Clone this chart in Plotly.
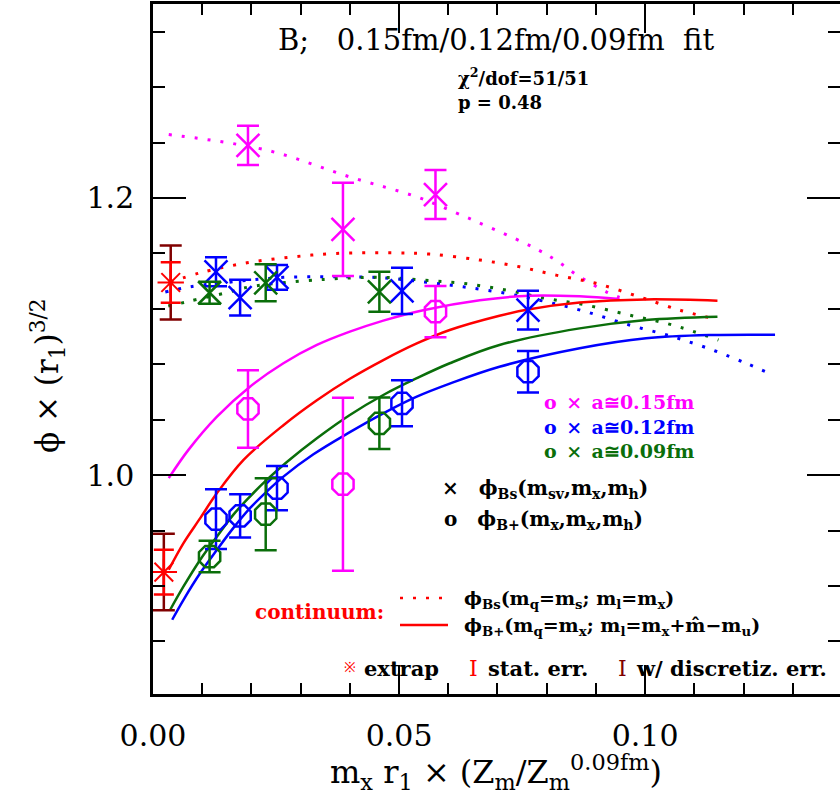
import plotly.graph_objects as go

# ---- data ------------------------------------------------------------------
# a ~ 0.15 fm (magenta)
mag_x = [0.0193, 0.0386, 0.0574]
mag_bs_y = [1.238, 1.1773, 1.2025]
mag_bs_err = [0.0142, 0.0337, 0.0177]
mag_bp_y = [1.0477, 0.9934, 1.1179]
mag_bp_err = [0.028, 0.0625, 0.0185]

# a ~ 0.12 fm (blue)
blue_x = [0.0128, 0.0177, 0.0252, 0.0506, 0.0762]
blue_bs_y = [1.1467, 1.128, 1.1427, 1.133, 1.1191]
blue_bs_err = [0.0105, 0.0129, 0.009, 0.0167, 0.014]
blue_bp_y = [0.9682, 0.9706, 0.9906, 1.0518, 1.0746]
blue_bp_err = [0.0216, 0.0156, 0.0159, 0.0166, 0.015]

# a ~ 0.09 fm (green)
green_x = [0.0115, 0.0229, 0.046]
green_bs_y = [1.1316, 1.1388, 1.1323]
green_bs_err = [0.008, 0.0133, 0.0144]
green_bp_y = [0.9412, 0.9718, 1.0374]
green_bp_err = [0.0114, 0.026, 0.0186]

# continuum extrapolations
extrap_x = [0.0036, 0.0022]
extrap_y = [1.139, 0.930]
extrap_stat = [0.0147, 0.0162]
extrap_tot = [0.0267, 0.0276]

# fit curves, phi_Bs (dotted)
mag_dot_x = [0.0032, 0.0231, 0.0400, 0.0536, 0.0603, 0.0771, 0.0819, 0.0867, 0.0921, 0.0948]
mag_dot_y = [1.2458, 1.2345, 1.2152, 1.2008, 1.1912, 1.1647, 1.1550, 1.1431, 1.1323, 1.1283]
red_dot_x = [0.0035, 0.0096, 0.0191, 0.0285, 0.0373, 0.0481, 0.0562, 0.0664, 0.0745,
             0.0819, 0.0900, 0.0988, 0.1070, 0.1137]
red_dot_y = [1.1393, 1.1460, 1.1532, 1.1575, 1.1600, 1.1604, 1.1595, 1.1552, 1.1503,
             1.1443, 1.1384, 1.1287, 1.1191, 1.1131]
blue_dot_x = [0.0025, 0.0076, 0.0177, 0.0265, 0.0361, 0.0461, 0.0549, 0.0630, 0.0718,
              0.0799, 0.0880, 0.0968, 0.1056, 0.1137, 0.1205, 0.1252]
blue_dot_y = [1.1321, 1.1359, 1.1400, 1.1427, 1.1431, 1.1425, 1.1395, 1.1359, 1.1311,
              1.1251, 1.1179, 1.1083, 1.0999, 1.0903, 1.0807, 1.0735]
green_dot_x = [0.0031, 0.0069, 0.0157, 0.0197, 0.0346, 0.0468, 0.0549, 0.0630, 0.0718,
               0.0799, 0.0880, 0.0968, 0.1056, 0.1149]
green_dot_y = [1.1220, 1.1251, 1.1323, 1.1359, 1.1412, 1.1427, 1.1407, 1.1384, 1.1335,
               1.1275, 1.1227, 1.1155, 1.1083, 1.0975]

# fit curves, phi_B+ (solid)
mag_sol_x = [0.0032, 0.0072, 0.0130, 0.0197, 0.0265, 0.0333, 0.0400, 0.0468, 0.0549,
             0.0664, 0.0765, 0.0867, 0.0948]
mag_sol_y = [0.9978, 1.0182, 1.0422, 1.0638, 1.0807, 1.0939, 1.1035, 1.1115, 1.1190,
             1.1262, 1.1295, 1.1290, 1.1270]
red_sol_x = [0.0032, 0.0062, 0.0096, 0.0130, 0.0184, 0.0265, 0.0333, 0.0400, 0.0468,
             0.0536, 0.0603, 0.0704, 0.0762, 0.0867, 0.1002, 0.1147]
red_sol_y = [0.9317, 0.9509, 0.9689, 0.9870, 1.0110, 1.0360, 1.0540, 1.0695, 1.0830,
             1.0950, 1.1047, 1.1150, 1.1195, 1.1245, 1.1268, 1.1258]
green_sol_x = [0.0035, 0.0062, 0.0096, 0.0130, 0.0163, 0.0197, 0.0231, 0.0272, 0.0333,
               0.0400, 0.0468, 0.0536, 0.0603, 0.0704, 0.0867, 0.1002, 0.1147]
green_sol_y = [0.9028, 0.9196, 0.9389, 0.9557, 0.9713, 0.9845, 0.9965, 1.0095, 1.0266,
               1.0434, 1.0578, 1.0699, 1.0807, 1.0939, 1.1059, 1.1119, 1.1143]
blue_sol_x = [0.0039, 0.0062, 0.0096, 0.0130, 0.0163, 0.0197, 0.0231, 0.0265, 0.0326,
              0.0400, 0.0468, 0.0536, 0.0603, 0.0704, 0.0867, 0.1002, 0.1137, 0.1264]
blue_sol_y = [0.8956, 0.9100, 0.9293, 0.9461, 0.9617, 0.9761, 0.9881, 0.9989, 1.0150,
              1.0310, 1.0446, 1.0566, 1.0660, 1.0782, 1.0915, 1.0987, 1.1011, 1.1013]

# ---- styling ----------------------------------------------------------------
MAGENTA = '#FF00FF'
BLUE = '#0000FF'
GREEN = '#0A6E0A'
RED = '#FF0000'
DARKRED = '#800000'
FONT = 'DejaVu Serif'
PHI = '\u03d5'
NB = '\u00a0'
EN = '\u2002'
EM = '\u2003'

# plot area in pixels (for text placement)
L, T, W, H = 153, 4, 687, 690


def px(x, y):
    return (x - L) / W, (T + H - y) / H


fig = go.Figure()


def curve(xs, ys, color, dotted):
    fig.add_trace(go.Scatter(
        x=xs, y=ys, mode='lines', line_shape='spline', hoverinfo='skip',
        line={'color': color, 'width': 3 if dotted else 2.5,
              'dash': '3px,10px' if dotted else 'solid'}
    ))


for xs, ys, c in [(mag_dot_x, mag_dot_y, MAGENTA), (red_dot_x, red_dot_y, RED),
                  (blue_dot_x, blue_dot_y, BLUE), (green_dot_x, green_dot_y, GREEN)]:
    curve(xs, ys, c, True)
for xs, ys, c in [(mag_sol_x, mag_sol_y, MAGENTA), (red_sol_x, red_sol_y, RED),
                  (green_sol_x, green_sol_y, GREEN), (blue_sol_x, blue_sol_y, BLUE)]:
    curve(xs, ys, c, False)


def points(xs, ys, errs, color, symbol):
    fig.add_trace(go.Scatter(
        x=xs, y=ys, mode='markers',
        marker={'symbol': symbol, 'size': 23, 'color': color,
                'line': {'color': color, 'width': 2.5}},
        error_y={'type': 'data', 'array': errs, 'color': color,
                 'thickness': 2.5, 'width': 11}
    ))


for xs, bs, bse, bp, bpe, c in [
        (mag_x, mag_bs_y, mag_bs_err, mag_bp_y, mag_bp_err, MAGENTA),
        (blue_x, blue_bs_y, blue_bs_err, blue_bp_y, blue_bp_err, BLUE),
        (green_x, green_bs_y, green_bs_err, green_bp_y, green_bp_err, GREEN)]:
    points(xs, bs, bse, c, 'x-thin-open')
    points(xs, bp, bpe, c, 'octagon-open')

# extrapolated points: total error (dark red) and stat error (red)
fig.add_trace(go.Scatter(
    x=extrap_x, y=extrap_y, mode='markers', marker={'size': 1, 'color': DARKRED},
    error_y={'type': 'data', 'array': extrap_tot, 'color': DARKRED,
             'thickness': 2.5, 'width': 11}
))
fig.add_trace(go.Scatter(
    x=extrap_x, y=extrap_y, mode='markers',
    marker={'symbol': 'asterisk-open', 'size': 22, 'color': RED,
            'line': {'color': RED, 'width': 2}},
    error_y={'type': 'data', 'array': extrap_stat, 'color': RED,
             'thickness': 2.5, 'width': 10}
))

# dummy trace so the right-hand tick axis is drawn
fig.add_trace(go.Scatter(x=[0.05], y=[1.0], yaxis='y2', mode='markers',
                         marker={'opacity': 0}, hoverinfo='skip'))

# ---- annotations --------------------------------------------------------------
annotations = []


def ann(text, x, y, size, color='black', bold=False, xanchor='left'):
    ax, ay = px(x, y)
    if bold:
        text = '<b>' + text + '</b>'
    annotations.append(dict(
        text=text, x=ax, y=ay, xref='paper', yref='paper', showarrow=False,
        xanchor=xanchor, yanchor='middle', align='left',
        font={'family': FONT, 'size': size, 'color': color}
    ))


ann('B;' + NB * 3 + '0.15fm/0.12fm/0.09fm' + NB * 2 + 'fit', 276, 40, 29)
ann('χ<sup>2</sup>/dof=51/51', 456, 77, 18, bold=True)
ann('p' + NB + '=' + NB + '0.48', 456, 102, 18, bold=True)

# lattice-spacing key, one text block with coloured lines
key_lines = []
for c, lab in [(MAGENTA, '0.15fm'), (BLUE, '0.12fm'), (GREEN, '0.09fm')]:
    key_lines.append('<span style="color:%s">o%s×%sa≅%s</span>' % (c, EN, EN, lab))
ann('<br>'.join(key_lines), 542, 426, 19, bold=True)

ann('×' + EM + PHI + '<sub>Bs</sub>(m<sub>sv</sub>,m<sub>x</sub>,m<sub>h</sub>)',
    440, 489, 20, bold=True)
ann('o' + EM + PHI + '<sub>B+</sub>(m<sub>x</sub>,m<sub>x</sub>,m<sub>h</sub>)',
    442, 520, 20, bold=True)

ann('continuum:', 253, 612, 20, RED, True)
ann(PHI + '<sub>Bs</sub>(m<sub>q</sub>=m<sub>s</sub>;' + NB + 'm<sub>l</sub>=m<sub>x</sub>)',
    462, 599, 19, bold=True)
ann(PHI + '<sub>B+</sub>(m<sub>q</sub>=m<sub>x</sub>;' + NB
    + 'm<sub>l</sub>=m<sub>x</sub>+m\u0302−m<sub>u</sub>)',
    462, 626, 19, bold=True)

ann('※', 350, 667, 14, RED, xanchor='center')
ann('extrap', 362, 668, 21, bold=True)
ann('I', 473, 668, 22, RED, xanchor='center')
ann('stat.' + NB + 'err.', 486, 668, 21, bold=True)
ann('I', 622, 668, 22, DARKRED, xanchor='center')
ann('w/' + NB + 'discretiz.' + NB + 'err.', 634, 668, 21, bold=True)

# axis titles
ann(PHI + ' × (r<sub>1</sub>)<sup>3/2</sup>', 47, 376, 31, xanchor='center')
annotations[-1]['textangle'] = -90
ann('m<sub>x</sub> r<sub>1</sub> × (Z<sub>m</sub>/Z<sub>m</sub><sup>0.09fm</sup>)',
    496, 772, 32, xanchor='center')

# legend line samples for the continuum curves
x0, _ = px(400, 0)
x1, _ = px(448, 0)
_, yd = px(0, 598)
_, ys = px(0, 625)
shapes = [
    dict(type='line', xref='paper', yref='paper', x0=x0, x1=x1, y0=yd, y1=yd,
         line={'color': RED, 'width': 2.5, 'dash': '3px,10px'}),
    dict(type='line', xref='paper', yref='paper', x0=x0, x1=x1, y0=ys, y1=ys,
         line={'color': RED, 'width': 2.5}),
]

X_RANGE = [0.0, 0.1396]
Y_RANGE = [0.842, 1.34]

fig.update_layout(
    width=840, height=801,
    margin={'l': L, 'r': 0, 't': T, 'b': 801 - T - H},
    paper_bgcolor='white', plot_bgcolor='white',
    showlegend=False,
    font={'family': FONT, 'color': 'black'},
    annotations=annotations,
    shapes=shapes,
    xaxis={
        'range': X_RANGE, 'showgrid': False, 'zeroline': False,
        'showline': True, 'linecolor': 'black', 'linewidth': 2.5, 'mirror': 'ticks',
        'ticks': 'inside', 'ticklen': 29, 'tickwidth': 2, 'tickcolor': 'black',
        'tick0': 0, 'dtick': 0.05, 'tickformat': '.2f',
        'tickfont': {'family': FONT, 'size': 30}, 'ticklabelstandoff': 13,
        'minor': {'dtick': 0.01, 'ticks': 'inside', 'ticklen': 11,
                  'tickwidth': 2, 'tickcolor': 'black', 'showgrid': False},
    },
    yaxis={
        'range': Y_RANGE, 'showgrid': False, 'zeroline': False,
        'showline': True, 'linecolor': 'black', 'linewidth': 2.5, 'mirror': False,
        'ticks': 'inside', 'ticklen': 33, 'tickwidth': 2, 'tickcolor': 'black',
        'tick0': 0, 'dtick': 0.2, 'tickformat': '.1f',
        'tickfont': {'family': FONT, 'size': 30}, 'ticklabelstandoff': 10,
        'minor': {'tick0': 0, 'dtick': 0.04, 'ticks': 'inside', 'ticklen': 12,
                  'tickwidth': 2, 'tickcolor': 'black', 'showgrid': False},
    },
    yaxis2={
        'range': Y_RANGE, 'overlaying': 'y', 'side': 'right',
        'showgrid': False, 'zeroline': False, 'showline': False,
        'showticklabels': False,
        'ticks': 'inside', 'ticklen': 33, 'tickwidth': 2, 'tickcolor': 'black',
        'tick0': 0, 'dtick': 0.2,
        'minor': {'tick0': 0, 'dtick': 0.04, 'ticks': 'inside', 'ticklen': 12,
                  'tickwidth': 2, 'tickcolor': 'black', 'showgrid': False},
    },
)

# drop the page's default body margin so the figure sits at the window corner
fig.write_html("out.html", config={'displayModeBar': False},
               post_script="document.body.style.margin='0';")
